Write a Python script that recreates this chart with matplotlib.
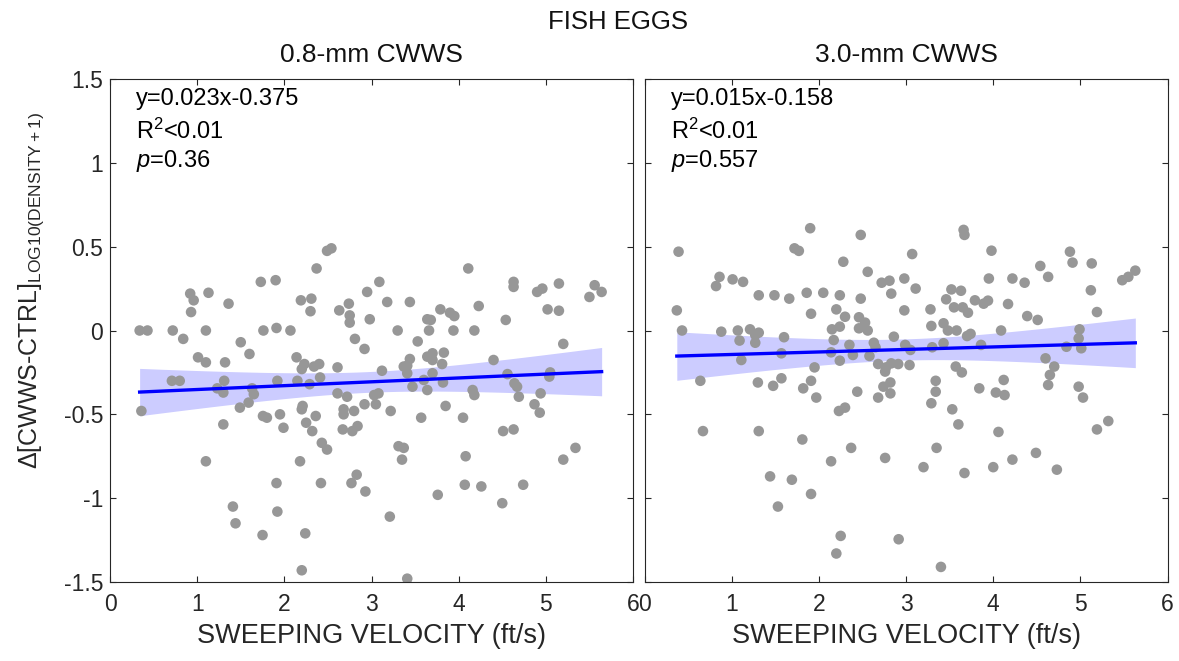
import numpy as np
import matplotlib
matplotlib.use("Agg")
import matplotlib.pyplot as plt
from matplotlib.ticker import FuncFormatter

plt.rcParams['font.family'] = ['Liberation Sans', 'DejaVu Sans']
plt.rcParams['mathtext.fontset'] = 'custom'
plt.rcParams['mathtext.rm'] = 'Liberation Sans'
plt.rcParams['mathtext.it'] = 'Liberation Sans:italic'

# sweeping velocity (ft/s) and log density differences, 0.8-mm screen
vel_08 = [0.34, 0.43, 0.72, 0.84, 0.92, 0.96, 0.93, 1.13, 1.10, 1.36, 1.01, 1.10, 1.32, 1.50, 1.60,
          0.71, 0.80, 1.31, 1.23, 1.30, 1.63, 1.65, 1.73, 1.90, 1.76, 1.91, 2.07, 2.37, 2.49, 2.54,
          2.19, 2.31, 2.30, 2.14, 2.23, 2.20, 2.34, 2.40, 2.41, 2.15, 2.29, 1.92, 2.61, 2.63, 2.74,
          2.75, 2.75, 2.81, 2.92, 2.95, 2.98, 2.61, 2.72, 4.11, 3.09, 3.18, 3.44, 3.30, 3.64, 3.68,
          3.66, 3.79, 3.90, 3.95, 3.94, 4.18, 4.23, 3.53, 4.63, 4.63, 4.54, 4.90, 4.96, 5.15, 5.02,
          5.15, 5.20, 5.56, 5.64, 5.50, 4.40, 4.56, 4.64, 4.67, 5.05, 5.04, 3.12, 3.44, 3.41, 3.37,
          3.41, 3.64, 3.70, 3.83, 3.70, 3.81, 3.70, 3.60, 3.64, 3.47, 3.82, 4.16, 4.18, 4.94, 3.03,
          3.08, 0.36, 1.30, 1.10, 1.41, 1.44, 1.49, 1.59, 1.755, 1.80, 1.95, 1.99, 1.91, 1.92, 1.75,
          2.18, 2.20, 2.21, 2.24, 2.20, 2.25, 2.32, 2.36, 2.43, 2.49, 2.42, 2.68, 2.68, 2.80, 2.67,
          2.78, 2.84, 2.77, 2.83, 2.93, 2.92, 3.05, 3.22, 3.57, 3.85, 4.05, 4.69, 4.87, 4.93, 4.51,
          4.63, 3.31, 3.37, 3.35, 4.08, 4.07, 4.26, 4.74, 4.50, 3.76, 3.21, 3.41, 5.20, 5.34]
dlog_08 = [0.0, 0.0, 0.0, -0.05, 0.22, 0.18, 0.11, 0.225, 0.0, 0.16, -0.16, -0.19, -0.19, -0.07, -0.14,
           -0.30, -0.30, -0.30, -0.345, -0.37, -0.345, -0.38, 0.29, 0.30, 0.0, 0.015, 0.0, 0.37, 0.475, 0.49,
           0.18, 0.19, 0.115, -0.16, -0.20, -0.23, -0.215, -0.20, -0.28, -0.30, -0.32, -0.30, -0.22, 0.12, 0.16,
           0.09, 0.047, -0.05, -0.11, 0.23, 0.067, -0.375, -0.395, 0.37, 0.29, 0.17, 0.17, 0.0, 0.067, 0.063,
           0.0, 0.126, 0.106, 0.086, 0.0, 0.0, 0.146, -0.065, 0.29, 0.26, 0.063, 0.23, 0.25, 0.28, 0.126,
           0.118, -0.08, 0.27, 0.23, 0.20, -0.176, -0.26, -0.315, -0.335, -0.25, -0.275, -0.24, -0.17, -0.21, -0.215,
           -0.255, -0.156, -0.136, -0.132, -0.176, -0.20, -0.255, -0.295, -0.355, -0.335, -0.31, -0.355, -0.385, -0.375, -0.385,
           -0.375, -0.48, -0.56, -0.78, -1.05, -1.15, -0.46, -0.43, -0.51, -0.52, -0.50, -0.58, -0.91, -1.08, -1.22,
           -0.78, -0.47, -0.45, -1.21, -1.43, -0.55, -0.60, -0.51, -0.67, -0.71, -0.91, -0.47, -0.50, -0.48, -0.59,
           -0.60, -0.57, -0.91, -0.86, -0.96, -0.44, -0.44, -0.48, -0.52, -0.45, -0.52, -0.395, -0.44, -0.49, -0.60,
           -0.59, -0.69, -0.70, -0.77, -0.75, -0.92, -0.93, -0.92, -1.03, -0.98, -1.11, -1.48, -0.77, -0.70]

# same for the 3.0-mm screen
vel_30 = [0.39, 0.37, 0.43, 0.64, 0.86, 0.82, 1.01, 1.13, 0.88, 1.07, 1.21, 1.31, 1.27, 1.09, 1.27,
          1.11, 1.31, 1.49, 1.66, 1.60, 1.57, 1.30, 1.475, 1.57, 1.72, 1.77, 1.90, 1.86, 1.91, 2.05,
          1.95, 1.82, 1.91, 1.97, 2.24, 2.20, 2.30, 2.28, 2.48, 2.48, 2.56, 2.15, 2.24, 2.17, 2.14,
          2.24, 2.35, 2.39, 2.46, 2.53, 2.46, 2.56, 2.44, 2.63, 2.65, 2.58, 2.68, 2.77, 2.83, 2.91,
          2.76, 2.86, 2.72, 2.81, 2.83, 2.74, 2.82, 2.68, 2.82, 2.98, 2.98, 3.66, 3.67, 3.07, 3.98,
          3.11, 3.28, 3.52, 3.63, 3.46, 3.55, 3.65, 3.71, 3.79, 3.89, 3.94, 3.95, 4.22, 4.36, 4.17,
          4.39, 4.51, 4.54, 4.63, 4.88, 4.91, 5.13, 5.12, 5.19, 5.48, 5.55, 5.63, 3.29, 3.43, 3.48,
          3.58, 3.70, 3.74, 3.43, 3.30, 3.86, 4.09, 2.99, 3.05, 3.04, 3.57, 3.64, 4.60, 4.70, 4.65,
          4.63, 4.99, 4.98, 4.84, 5.01, 4.98, 5.03, 3.34, 3.34, 3.84, 4.12, 4.03, 4.13, 0.67, 1.31,
          1.81, 2.23, 2.30, 2.37, 2.14, 1.44, 1.69, 1.91, 1.53, 2.25, 2.20, 2.76, 2.915, 3.29, 3.53,
          3.60, 4.06, 3.35, 3.20, 3.67, 4.00, 4.22, 4.49, 4.73, 5.19, 5.32, 3.40]
dlog_30 = [0.47, 0.12, 0.0, -0.30, 0.32, 0.265, 0.305, 0.29, -0.007, 0.0, 0.007, -0.013, -0.027, -0.06, -0.073,
           -0.176, 0.21, 0.21, 0.19, -0.04, -0.136, -0.31, -0.33, -0.285, 0.49, 0.475, 0.61, 0.225, 0.10, 0.225,
           -0.22, -0.345, -0.30, -0.40, 0.21, 0.126, 0.082, 0.41, 0.57, 0.19, 0.35, 0.007, 0.023, -0.057, -0.13,
           -0.18, -0.086, -0.146, 0.079, 0.047, 0.013, 0.0, -0.365, -0.073, -0.10, -0.152, -0.20, -0.22, -0.196, -0.20,
           -0.245, -0.037, 0.285, 0.297, 0.22, -0.335, -0.31, -0.40, -0.375, 0.31, 0.12, 0.60, 0.57, 0.456, 0.476,
           0.25, 0.126, 0.245, 0.237, 0.186, 0.138, 0.138, 0.106, 0.18, 0.16, 0.178, 0.31, 0.31, 0.285, 0.158,
           0.086, 0.063, 0.385, 0.32, 0.47, 0.405, 0.40, 0.24, 0.11, 0.30, 0.32, 0.357, 0.027, 0.043, 0.0,
           0.0, -0.033, -0.02, -0.076, -0.10, -0.086, 0.0, -0.086, -0.116, -0.206, -0.215, -0.25, -0.166, -0.215, -0.265,
           -0.325, 0.007, -0.047, -0.097, -0.106, -0.335, -0.40, -0.30, -0.365, -0.345, -0.295, -0.37, -0.385, -0.60, -0.60,
           -0.65, -0.48, -0.46, -0.70, -0.78, -0.87, -0.89, -0.975, -1.05, -1.225, -1.33, -0.76, -1.245, -0.434, -0.47,
           -0.56, -0.605, -0.70, -0.815, -0.85, -0.815, -0.77, -0.73, -0.83, -0.59, -0.54, -1.41]

# fitted lines and stats printed on each panel
slope = [0.023, 0.015]
icept = [-0.375, -0.158]
r2_txt = ["<0.01", "<0.01"]
p_txt = ["0.36", "0.557"]
titles = ["0.8-mm CWWS", "3.0-mm CWWS"]


def conf_band(x, y, b, a, xs):
    # 95% band around the line y = b*x + a
    x = np.asarray(x)
    y = np.asarray(y)
    n = len(x)
    resid = y - (b * x + a)
    s = np.sqrt(np.sum(resid ** 2) / (n - 2))
    sxx = np.sum((x - x.mean()) ** 2)
    half = 1.97 * s * np.sqrt(1.0 / n + (xs - x.mean()) ** 2 / sxx)
    yy = b * xs + a
    return yy - half, yy + half


fig = plt.figure(figsize=(11.79, 6.61), dpi=100)
axes = [fig.add_axes([0.0933, 0.1195, 0.4436, 0.761]),
        fig.add_axes([0.5467, 0.1195, 0.4436, 0.761])]

data = [(vel_08, dlog_08), (vel_30, dlog_30)]
fmt = FuncFormatter(lambda v, pos: "%g" % v)
dark = '#262626'

for i, ax in enumerate(axes):
    vx, vy = data[i]
    xs = np.linspace(min(vx), max(vx), 200)
    lo, hi = conf_band(vx, vy, slope[i], icept[i], xs)
    ax.fill_between(xs, lo, hi, color='#ccccff', lw=0, zorder=1)
    ax.scatter(vx, vy, s=58, color='#979797', edgecolors='none', zorder=2)
    ax.plot(xs, slope[i] * xs + icept[i], color='#0000ff', lw=2.4, zorder=3)

    ax.set_xlim(0, 6)
    ax.set_ylim(-1.5, 1.5)
    ax.set_xticks(range(0, 7))
    ax.set_yticks(np.arange(-1.5, 1.51, 0.5))
    ax.xaxis.set_major_formatter(fmt)
    ax.yaxis.set_major_formatter(fmt)
    ax.tick_params(direction='in', top=True, right=True, length=4, width=0.8,
                   color=dark, labelsize=16.5, labelcolor=dark)
    ax.tick_params(axis='x', pad=8)
    ax.tick_params(axis='y', pad=5)
    for sp in ax.spines.values():
        sp.set_color(dark)
        sp.set_linewidth(0.8)
    ax.set_xlabel("SWEEPING VELOCITY (ft/s)", fontsize=19.5, color=dark, labelpad=5)
    ax.set_title(titles[i], fontsize=19, color='#111111', pad=12)

    eq = "y=%.3fx%.3f" % (slope[i], icept[i])
    ax.text(0.05, 0.982, eq, transform=ax.transAxes, fontsize=17, va='top')
    ax.text(0.05, 0.922, r"R$^2$" + r2_txt[i], transform=ax.transAxes, fontsize=17, va='top')
    ax.text(0.05, 0.862, r"$p$=" + p_txt[i], transform=ax.transAxes, fontsize=17, va='top')

axes[1].tick_params(labelleft=False)
axes[0].set_ylabel(r"$\Delta$[CWWS-CTRL]$_{\mathrm{LOG10(DENSITY+1)}}$", fontsize=18, color=dark)
axes[0].yaxis.set_label_coords(-0.122, 0.58)

fig.text(0.524, 0.966, "FISH EGGS", ha='center', va='center', fontsize=18.5, color='#111111')

fig.savefig("out.png", dpi=100)
